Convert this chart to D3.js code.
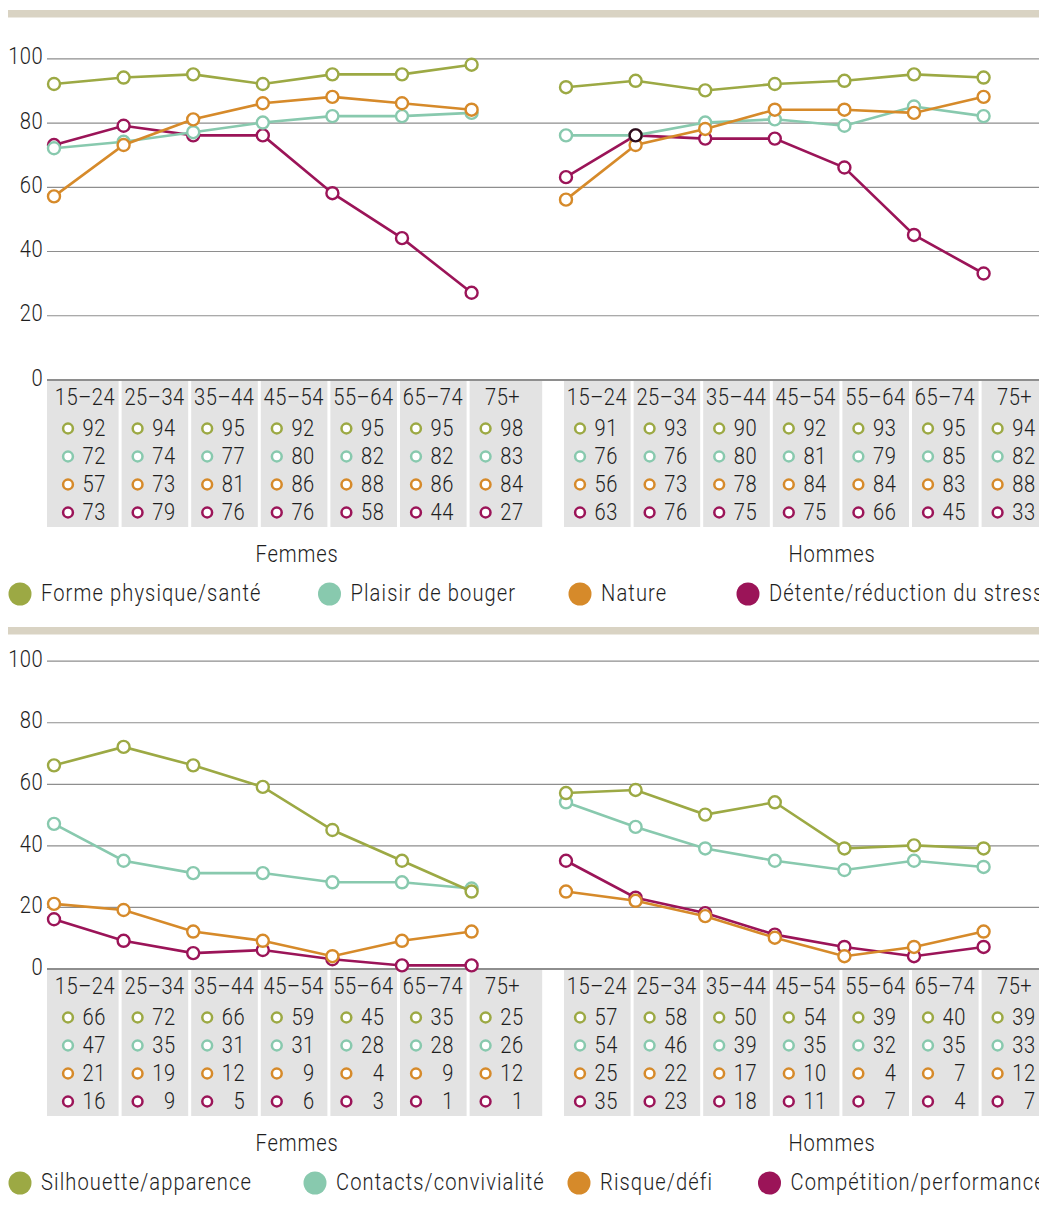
<!DOCTYPE html>
<html>
<head>
<meta charset="utf-8">
<script src="https://cdn.jsdelivr.net/npm/d3@7"></script>
<style>
  body { margin: 0; background: #fff; }
  svg text { font-family: Roboto, "Liberation Sans", sans-serif; font-weight: 300; fill: #1e1e1e; }
</style>
</head>
<body>
<div id="chart"></div>
<script>
const ages = ["15–24", "25–34", "35–44", "45–54", "55–64", "65–74", "75+"];
const groups = ["Femmes", "Hommes"];
const yTicks = [0, 20, 40, 60, 80, 100];
const colours = ["#9ca944", "#88c9ae", "#d68a2a", "#9b1458"];

// chart 1
const motifs1 = ["Forme physique/santé", "Plaisir de bouger", "Nature", "Détente/réduction du stress"];
const formeFemmes = [92, 94, 95, 92, 95, 95, 98];
const formeHommes = [91, 93, 90, 92, 93, 95, 94];
const plaisirFemmes = [72, 74, 77, 80, 82, 82, 83];
const plaisirHommes = [76, 76, 80, 81, 79, 85, 82];
const natureFemmes = [57, 73, 81, 86, 88, 86, 84];
const natureHommes = [56, 73, 78, 84, 84, 83, 88];
const detenteFemmes = [73, 79, 76, 76, 58, 44, 27];
const detenteHommes = [63, 76, 75, 75, 66, 45, 33];

// chart 2
const motifs2 = ["Silhouette/apparence", "Contacts/convivialité", "Risque/défi", "Compétition/performance"];
const silhouetteFemmes = [66, 72, 66, 59, 45, 35, 25];
const silhouetteHommes = [57, 58, 50, 54, 39, 40, 39];
const contactsFemmes = [47, 35, 31, 31, 28, 28, 26];
const contactsHommes = [54, 46, 39, 35, 32, 35, 33];
const risqueFemmes = [21, 19, 12, 9, 4, 9, 12];
const risqueHommes = [25, 22, 17, 10, 4, 7, 12];
const competitionFemmes = [16, 9, 5, 6, 3, 1, 1];
const competitionHommes = [35, 23, 18, 11, 7, 4, 7];

const W = 1039, H = 1213;
const plotLeft = 47;
const step = 69.6;
const groupOrigin = [53, 565];
const groupLabelX = [297, 832];
const drawOrder = [3, 1, 2, 0];
const squeeze = 0.84; // narrow the font, the original uses a DIN-like face

const panels = [
  {
    barY: 10, yRange: [379.5, 58.3], tableTop: 381,
    motifs: motifs1, legendX: [20, 329.5, 580, 748],
    series: [[formeFemmes, formeHommes], [plaisirFemmes, plaisirHommes],
             [natureFemmes, natureHommes], [detenteFemmes, detenteHommes]],
    highlight: { series: 3, group: 1, age: 1 }
  },
  {
    barY: 627, yRange: [968.5, 660.7], tableTop: 970,
    motifs: motifs2, legendX: [20, 315, 579, 769.5],
    series: [[silhouetteFemmes, silhouetteHommes], [contactsFemmes, contactsHommes],
             [risqueFemmes, risqueHommes], [competitionFemmes, competitionHommes]],
    highlight: null
  }
];

function addText(parent, x, y, str, anchor, spacing) {
  return parent.append("text")
    .attr("transform", `translate(${x},${y - 1.5}) scale(${squeeze},1)`)
    .attr("text-anchor", anchor)
    .attr("dominant-baseline", "central")
    .attr("font-size", 24)
    .attr("letter-spacing", spacing)
    .text(str);
}

const svg = d3.select("#chart").append("svg")
  .attr("width", W)
  .attr("height", H);

const xAge = d3.scaleBand().domain(ages).range([0, ages.length * step]);
const ptX = (g, a) => groupOrigin[g] + xAge(a) + 1;

panels.forEach(p => {
  const y = d3.scaleLinear().domain([0, 100]).range(p.yRange);
  const g = svg.append("g");

  // beige band on top
  g.append("rect")
    .attr("x", 8).attr("y", p.barY)
    .attr("width", W - 8).attr("height", 7.5)
    .attr("fill", "#d9d3c3");

  // grid + tick labels
  const yAxis = d3.axisLeft(y).tickValues(yTicks).tickSize(-(W - plotLeft)).tickFormat("");
  const ax = g.append("g")
    .attr("transform", `translate(${plotLeft},0)`)
    .call(yAxis);
  ax.select(".domain").remove();
  ax.selectAll(".tick line")
    .attr("stroke", "#8e8e8e")
    .attr("stroke-width", d => d === 0 ? 2 : 1.2);
  yTicks.forEach(t => addText(g, plotLeft - 4, y(t) - 1, t, "end", 0.5));

  // table cells
  const table = g.append("g");
  groups.forEach((grp, gi) => {
    ages.forEach((a, ai) => {
      let x0 = groupOrigin[gi] + xAge(a) - 1;
      let w = step - 3;
      if (gi === 0 && ai === 0) { w += x0 - plotLeft; x0 = plotLeft; }
      if (gi === 0 && ai === ages.length - 1) w += 6;
      if (gi === 1 && ai === ages.length - 1) w += 40;
      table.append("rect")
        .attr("x", x0).attr("y", p.tableTop)
        .attr("width", w).attr("height", 146)
        .attr("fill", "#e3e3e3");
      addText(table, ptX(gi, a) + 31, p.tableTop + 17, a, "middle", 0.6);
      p.series.forEach((s, si) => {
        const ry = p.tableTop + 47.5 + si * 28;
        table.append("circle")
          .attr("cx", ptX(gi, a) + 14).attr("cy", ry).attr("r", 4.9)
          .attr("fill", "#fff").attr("stroke", colours[si]).attr("stroke-width", 2.5);
        addText(table, ptX(gi, a) + 52, ry, s[gi][ai], "end", 0.6);
      });
    });
    addText(g, groupLabelX[gi], p.tableTop + 174, grp, "middle", 1);
  });

  // lines and markers
  const line = d3.line().x(d => d.x).y(d => y(d.v));
  drawOrder.forEach(si => {
    groups.forEach((grp, gi) => {
      const pts = p.series[si][gi].map((v, ai) => ({ x: ptX(gi, ages[ai]), v }));
      g.append("path")
        .datum(pts)
        .attr("d", line)
        .attr("fill", "none")
        .attr("stroke", colours[si])
        .attr("stroke-width", 2.6);
      g.selectAll(null)
        .data(pts)
        .join("circle")
        .attr("cx", d => d.x).attr("cy", d => y(d.v)).attr("r", 6)
        .attr("fill", "#fff").attr("stroke", colours[si]).attr("stroke-width", 2.4);
    });
  });
  if (p.highlight) {
    const h = p.highlight;
    g.append("circle")
      .attr("cx", ptX(h.group, ages[h.age]))
      .attr("cy", y(p.series[h.series][h.group][h.age]))
      .attr("r", 6)
      .attr("fill", "#fff").attr("stroke", "#2e0c1c").attr("stroke-width", 2.4);
  }

  // legend
  const leg = g.append("g");
  p.motifs.forEach((m, i) => {
    const ly = p.tableTop + 213;
    leg.append("circle")
      .attr("cx", p.legendX[i]).attr("cy", ly).attr("r", 11.5)
      .attr("fill", colours[i]);
    addText(leg, p.legendX[i] + 21, ly, m, "start", 1.3);
  });
});
</script>
</body>
</html>
